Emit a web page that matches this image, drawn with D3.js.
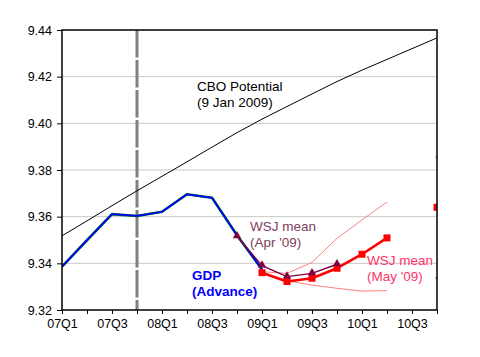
<!DOCTYPE html>
<html><head><meta charset="utf-8">
<script src="https://cdn.jsdelivr.net/npm/d3@7"></script>
<style>body{margin:0;background:#fff}svg{display:block;font-family:"Liberation Sans",Arial,sans-serif}</style>
</head><body><svg width="480" height="357"></svg>
<script>
const quarters = ["07Q1","07Q2","07Q3","07Q4","08Q1","08Q2","08Q3","08Q4","09Q1","09Q2","09Q3","09Q4","10Q1","10Q2","10Q3","10Q4"];
const yTicks = [9.32, 9.34, 9.36, 9.38, 9.40, 9.42, 9.44];
const recessionStart = "07Q4";
const cboPotential = [9.3518,9.3582,9.3647,9.3711,9.3773,9.3835,9.3898,9.3960,9.4018,9.4072,9.4126,9.4179,9.4228,9.4274,9.4320,9.4366];
const gdpAdvance = [9.3386,9.3499,9.3611,9.3603,9.3621,9.3696,9.3681,9.3520,9.3374,null,null,null,null,null,null,null];
const wsjApr = [null,null,null,null,null,null,null,9.3516,9.3390,9.3343,9.3357,9.3396,null,null,null,null];
const wsjMay = [null,null,null,null,null,null,null,null,9.3360,9.3322,9.3336,9.3379,9.3439,9.3509,null,9.3640];
const wsjMayHigh = [null,null,null,null,null,null,null,null,9.3364,9.3357,9.3404,9.3507,9.3586,9.3663,null,9.3855];
const wsjMayLow = [null,null,null,null,null,null,null,null,9.3358,9.3325,9.3307,9.3293,9.3281,9.3283,null,9.3336];

const svg = d3.select("svg");
const L = 62, R = 437, T = 30, B = 310;
const x = d3.scaleLinear().domain([0, quarters.length - 1]).range([L, R]);
const y = d3.scaleLinear().domain([9.32, 9.44]).range([B, T]);

svg.append("defs").append("clipPath").attr("id","clip")
  .append("rect").attr("x", L).attr("y", T).attr("width", R - L).attr("height", B - T);

// grid
svg.append("g").selectAll("line").data(yTicks.slice(1, -1)).join("line")
  .attr("x1", L).attr("x2", R).attr("y1", d => y(d)).attr("y2", d => y(d))
  .attr("stroke", "#c8c8c8").attr("stroke-width", 1);

// recession marker
const ri = quarters.indexOf(recessionStart);
svg.append("line").attr("x1", x(ri)).attr("x2", x(ri)).attr("y1", T).attr("y2", B)
  .attr("stroke", "#808080").attr("stroke-width", 3).attr("stroke-dasharray", "27.5,2.5");

const g = svg.append("g").attr("clip-path", "url(#clip)");
const line = d3.line().defined(d => d != null).x((d, i) => x(i)).y(d => y(d));
const path = (data, color, w) => g.append("path").datum(data).attr("d", line)
  .attr("fill", "none").attr("stroke", color).attr("stroke-width", w).attr("stroke-linejoin", "round");

path(cboPotential, "#000", 1);
path(gdpAdvance, "#008000", 2.6);
path(gdpAdvance, "#0000ff", 1.8);
path(wsjMayHigh, "#ff8080", 1);
path(wsjMayLow, "#ff8080", 1);
// isolated band points
const isolated = arr => arr.map((d, i) => ({d, i})).filter(o => o.d != null && arr[o.i - 1] == null && arr[o.i + 1] == null);
[wsjMayHigh, wsjMayLow].forEach(arr => {
  g.append("g").selectAll("rect").data(isolated(arr)).join("rect")
    .attr("x", o => x(o.i) - 1.5).attr("y", o => y(o.d) - 1).attr("width", 3).attr("height", 2).attr("fill", "#ff6060");
});
path(wsjMay, "#ff0000", 2.6);
g.append("g").selectAll("rect").data(wsjMay.map((d, i) => ({d, i})).filter(o => o.d != null)).join("rect")
  .attr("x", o => x(o.i) - 3.5).attr("y", o => y(o.d) - 3.5).attr("width", 7).attr("height", 7).attr("fill", "#ff0000");
path(wsjApr, "#800040", 1.4);
const tri = d3.symbol().type(d3.symbolTriangle).size(30);
g.append("g").selectAll("path").data(wsjApr.map((d, i) => ({d, i})).filter(o => o.d != null)).join("path")
  .attr("d", tri).attr("transform", o => `translate(${x(o.i)},${y(o.d) - 0.5})`).attr("fill", "#800040");

// axes
const xa = svg.append("g").attr("transform", `translate(0,${B})`)
  .call(d3.axisBottom(x).tickValues(d3.range(quarters.length))
    .tickFormat(i => i % 2 === 0 ? quarters[i] : "").tickSize(4).tickSizeOuter(0).tickPadding(5.5));
const ya = svg.append("g").attr("transform", `translate(${L},0)`)
  .call(d3.axisLeft(y).tickValues(yTicks).tickFormat(d3.format(".2f")).tickSize(5).tickSizeOuter(0).tickPadding(5));
[xa, ya].forEach(a => {
  a.select(".domain").remove();
  a.selectAll("text").attr("font-size", 12.5).attr("fill", "#000").attr("font-family", "'Liberation Sans',Arial,sans-serif");
  a.selectAll("line").attr("stroke", "#000");
});
svg.append("rect").attr("x", L).attr("y", T).attr("width", R - L).attr("height", B - T)
  .attr("fill", "none").attr("stroke", "#000").attr("stroke-width", 1.5);

// annotations
const label = (lines, xx, yy, color, bold) => {
  const t = svg.append("text").attr("x", xx).attr("y", yy).attr("fill", color)
    .attr("font-size", 13.5).attr("font-weight", bold ? "bold" : "normal");
  lines.forEach((s, k) => t.append("tspan").attr("x", xx).attr("dy", k ? 16 : 0).text(s));
};
label(["CBO Potential", "(9 Jan 2009)"], 197, 91, "#000", false);
label(["WSJ mean", "(Apr '09)"], 250, 231, "#804060", false);
label(["WSJ mean", "(May '09)"], 367, 264.5, "#ff3366", false);
label(["GDP", "(Advance)"], 192, 279.5, "#0000ff", true);
</script></body></html>
